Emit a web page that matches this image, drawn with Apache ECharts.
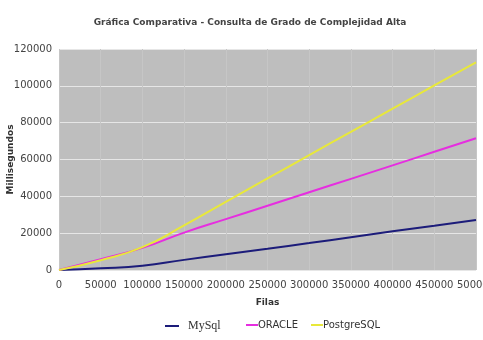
<!DOCTYPE html>
<html>
<head>
<meta charset="utf-8">
<script src="https://cdn.jsdelivr.net/npm/echarts@6/dist/echarts.min.js"></script>
<style>
  html, body { margin: 0; padding: 0; background: #fff; }
</style>
</head>
<body>
<div id="main" style="width: 483px; height: 340px"></div>
<script>
// filas (rows) and the time in milliseconds for each engine
const filas = [0, 50000, 100000, 150000, 200000, 250000, 300000, 350000, 400000, 450000, 500000];
const mysql = [0, 900, 2300, 5500, 8500, 11500, 14600, 17800, 21000, 24000, 27200];
const oracle = [0, 5800, 12000, 20300, 27600, 34900, 42200, 49500, 56800, 64200, 71500];
const postgre = [0, 5300, 12400, 24200, 37000, 49700, 62400, 75000, 87600, 100200, 112700];

function pares(vals) {
  return filas.map(function (f, i) {
    return [f, vals[i]];
  });
}

// one legend per item so the spacing can follow the original
function leyenda(nombre, left, fuente, size, ancho, gap) {
  return {
    left: left,
    top: 315,
    itemWidth: ancho,
    itemHeight: 2,
    data: [nombre],
    textStyle: {
      fontFamily: fuente,
      fontSize: size,
      color: "#333",
      padding: [0, 0, 0, gap],
    },
  };
}

let chartMain = echarts.init(document.getElementById("main"));
let option = {
  animation: false,
  backgroundColor: "#fff",
  title: {
    text: "Gráfica Comparativa - Consulta de Grado de Complejidad Alta",
    left: 245,
    textAlign: "center",
    top: 13,
    textStyle: {
      fontFamily: "DejaVu Sans",
      fontSize: 9,
      fontWeight: "bold",
      color: "#444",
    },
  },
  grid: {
    left: 59,
    right: 7,
    top: 49,
    bottom: 70,
    outerBoundsMode: "none",
    containLabel: false,
    show: true,
    backgroundColor: "#bebebe",
    borderWidth: 0,
  },
  legend: [
    leyenda("MySql", 159, "Liberation Serif", 12, 14, 4),
    leyenda("ORACLE", 240, "DejaVu Sans", 10, 12, -5),
    leyenda("PostgreSQL", 305, "DejaVu Sans", 10, 12, -5),
  ],
  xAxis: {
    type: "value",
    min: 0,
    max: 500000,
    interval: 50000,
    name: "Filas",
    nameLocation: "middle",
    nameGap: 28,
    nameMoveOverlap: false,
    nameTextStyle: {
      fontFamily: "DejaVu Sans",
      fontSize: 9,
      fontWeight: "bold",
      color: "#333",
    },
    axisLine: { show: false },
    axisTick: { show: false },
    axisLabel: {
      margin: 10,
      fontFamily: "DejaVu Sans",
      fontSize: 10,
      color: "#444",
      hideOverlap: false,
      formatter: function (v) {
        return String(v);
      },
    },
    splitLine: {
      show: true,
      lineStyle: { color: "#c6c6c6", width: 1 },
    },
  },
  yAxis: {
    type: "value",
    min: 0,
    max: 120000,
    interval: 20000,
    name: "Millisegundos",
    nameLocation: "middle",
    nameRotate: 90,
    nameGap: 44,
    nameMoveOverlap: false,
    nameTextStyle: {
      fontFamily: "DejaVu Sans",
      fontSize: 9,
      fontWeight: "bold",
      color: "#333",
    },
    axisLine: { show: false },
    axisTick: { show: false },
    axisLabel: {
      margin: 7,
      fontFamily: "DejaVu Sans",
      fontSize: 10,
      color: "#444",
      formatter: function (v) {
        return String(v);
      },
    },
    splitLine: {
      show: true,
      lineStyle: { color: "#e6e6e6", width: 1 },
    },
  },
  series: [
    {
      name: "MySql",
      type: "line",
      smooth: true,
      symbol: "none",
      data: pares(mysql),
      lineStyle: { width: 2, color: "#1c1c7a" },
      itemStyle: { color: "#1c1c7a" },
    },
    {
      name: "ORACLE",
      type: "line",
      smooth: true,
      symbol: "none",
      data: pares(oracle),
      lineStyle: { width: 2, color: "#e62ee0" },
      itemStyle: { color: "#e62ee0" },
    },
    {
      name: "PostgreSQL",
      type: "line",
      smooth: true,
      symbol: "none",
      data: pares(postgre),
      lineStyle: { width: 2, color: "#e8e83a" },
      itemStyle: { color: "#e8e83a" },
    },
  ],
};
chartMain && chartMain.setOption(option);
</script>
</body>
</html>
